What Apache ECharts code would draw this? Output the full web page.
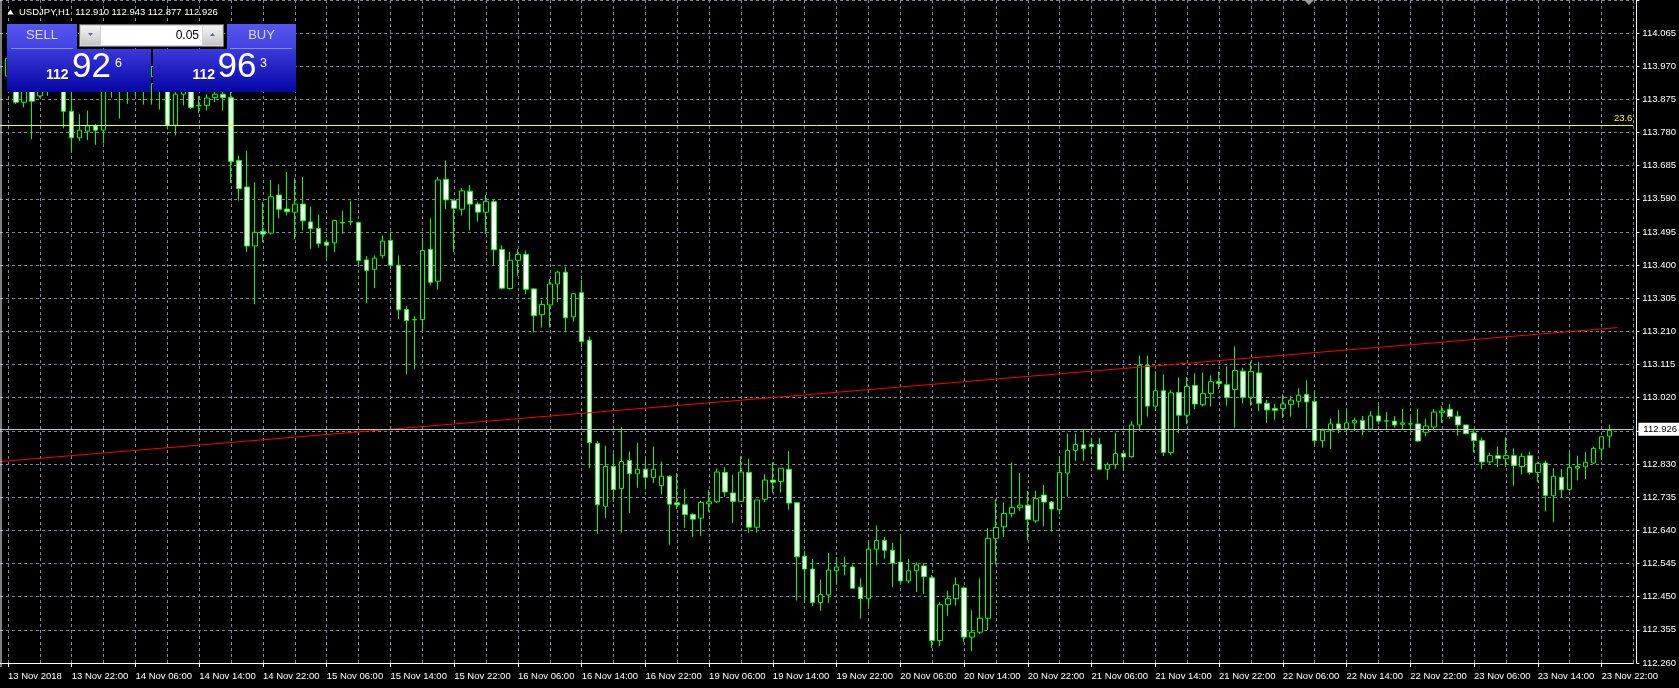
<!DOCTYPE html>
<html><head><meta charset="utf-8">
<script src="https://cdn.jsdelivr.net/npm/echarts@6/dist/echarts.min.js"></script>
<style>html,body{margin:0;padding:0;background:#000;}#c{width:1679px;height:688px;}</style>
</head><body><div id="c"></div>
<script>
const symbolName = 'USDJPY,H1';
const tickLabels = ['13 Nov 2018','13 Nov 22:00','14 Nov 06:00','14 Nov 14:00','14 Nov 22:00','15 Nov 06:00','15 Nov 14:00','15 Nov 22:00','16 Nov 06:00','16 Nov 14:00','16 Nov 22:00','19 Nov 06:00','19 Nov 14:00','19 Nov 22:00','20 Nov 06:00','20 Nov 14:00','20 Nov 22:00','21 Nov 06:00','21 Nov 14:00','21 Nov 22:00','22 Nov 06:00','22 Nov 14:00','22 Nov 22:00','23 Nov 06:00','23 Nov 14:00','23 Nov 22:00'];
const priceLow = 112.260, priceStep = 0.095, priceTop = 114.160;
const opens = [
113.942,113.930,113.867,113.900,113.885,113.910,113.935,113.950,113.841,113.765,
113.784,113.799,113.787,113.900,113.920,113.900,113.910,113.930,113.920,113.940,
113.920,113.801,113.890,113.910,113.857,113.858,113.880,113.890,113.880,113.700,
113.624,113.455,113.497,113.492,113.601,113.561,113.552,113.575,113.524,113.505,
113.466,113.464,113.522,113.524,113.522,113.415,113.388,113.427,113.471,113.400,
113.273,113.243,113.244,113.445,113.354,113.646,113.585,113.560,113.612,113.575,
113.552,113.582,113.445,113.333,113.414,113.431,113.332,113.258,113.286,113.346,
113.380,113.252,113.321,113.185,112.889,112.709,112.823,112.760,112.840,112.802,
112.815,112.791,112.768,112.795,112.719,112.713,112.685,112.675,112.716,112.722,
112.806,112.747,112.723,112.806,112.649,112.729,112.784,112.780,112.815,112.719,
112.566,112.529,112.433,112.455,112.524,112.538,112.535,112.477,112.444,112.586,
112.611,112.583,112.549,112.495,112.524,112.538,112.504,112.324,112.427,112.444,
112.475,112.334,112.348,112.388,112.617,112.650,112.688,112.705,112.712,112.667,
112.741,112.721,112.699,112.804,112.869,112.885,112.887,112.887,112.815,112.829,
112.860,112.851,112.942,113.113,112.996,113.040,112.863,113.035,112.970,113.055,
113.000,113.032,113.066,113.057,113.044,113.096,113.021,113.091,113.004,112.989,
112.989,113.001,113.010,113.029,113.009,112.897,112.927,112.945,112.931,112.948,
112.955,112.930,112.968,112.953,112.953,112.944,112.945,112.945,112.921,112.936,
112.977,112.987,112.967,112.942,112.919,112.897,112.836,112.854,112.845,112.854,
112.823,112.854,112.806,112.833,112.739,112.792,112.757,112.818,112.822,112.833,
112.873,112.910];
const highs = [
114.026,113.945,113.920,113.930,113.935,113.950,113.970,113.970,113.900,113.833,
113.843,113.805,113.930,113.950,113.950,113.940,113.950,113.960,113.970,113.960,
113.940,113.920,113.940,113.930,113.885,113.890,113.910,113.920,113.900,113.714,
113.728,113.638,113.581,113.644,113.632,113.667,113.650,113.653,113.568,113.545,
113.474,113.530,113.556,113.585,113.525,113.426,113.428,113.485,113.496,113.428,
113.282,113.254,113.478,113.534,113.653,113.700,113.588,113.621,113.630,113.582,
113.601,113.589,113.457,113.438,113.446,113.442,113.335,113.299,113.360,113.384,
113.395,113.320,113.358,113.195,112.896,112.883,112.861,112.936,112.866,112.891,
112.844,112.880,112.837,112.797,112.804,112.759,112.689,112.725,112.756,112.817,
112.821,112.799,112.852,112.845,112.727,112.801,112.835,112.818,112.867,112.719,
112.581,112.558,112.499,112.575,112.564,112.564,112.542,112.502,112.611,112.654,
112.621,112.604,112.621,112.558,112.548,112.546,112.512,112.434,112.467,112.505,
112.479,112.411,112.502,112.646,112.729,112.720,112.835,112.804,112.753,112.753,
112.770,112.724,112.852,112.917,112.917,112.931,112.905,112.905,112.835,112.920,
112.863,112.953,113.141,113.141,113.096,113.087,113.042,113.078,113.079,113.090,
113.092,113.084,113.095,113.110,113.167,113.106,113.123,113.123,113.014,113.002,
113.030,113.025,113.047,113.070,113.037,112.932,112.960,112.985,112.987,112.963,
112.968,112.982,112.998,112.979,112.967,112.988,112.965,112.988,112.960,112.988,
112.996,113.002,112.982,112.942,112.927,112.906,112.863,112.880,112.906,112.875,
112.861,112.866,112.837,112.840,112.818,112.816,112.868,112.854,112.864,112.880,
112.908,112.943];
const lows = [
113.912,113.862,113.852,113.761,113.880,113.885,113.910,113.792,113.725,113.756,
113.758,113.745,113.749,113.880,113.820,113.862,113.885,113.860,113.860,113.846,
113.789,113.772,113.858,113.848,113.836,113.843,113.867,113.843,113.636,113.585,
113.438,113.288,113.466,113.488,113.534,113.543,113.475,113.500,113.447,113.450,
113.419,113.438,113.490,113.515,113.400,113.291,113.334,113.419,113.389,113.245,
113.087,113.101,113.212,113.342,113.330,113.560,113.438,113.542,113.500,113.525,
113.490,113.401,113.330,113.330,113.370,113.316,113.207,113.221,113.221,113.294,
113.208,113.238,113.164,112.818,112.630,112.675,112.722,112.633,112.689,112.762,
112.757,112.776,112.743,112.599,112.701,112.647,112.621,112.624,112.693,112.718,
112.736,112.661,112.723,112.633,112.633,112.721,112.748,112.748,112.699,112.439,
112.434,112.423,112.409,112.432,112.484,112.511,112.472,112.387,112.421,112.539,
112.559,112.477,112.484,112.488,112.463,112.457,112.303,112.308,112.394,112.424,
112.320,112.294,112.343,112.354,112.542,112.621,112.677,112.696,112.611,112.661,
112.652,112.636,112.686,112.736,112.839,112.839,112.858,112.812,112.785,112.816,
112.811,112.848,112.925,112.966,112.982,112.853,112.856,112.919,112.944,112.987,
112.995,112.995,113.045,112.997,112.934,113.004,112.997,112.982,112.948,112.957,
112.962,112.966,112.992,112.932,112.880,112.877,112.873,112.919,112.925,112.925,
112.913,112.928,112.943,112.930,112.934,112.929,112.925,112.894,112.910,112.927,
112.948,112.960,112.911,112.915,112.863,112.816,112.831,112.821,112.821,112.768,
112.800,112.800,112.778,112.694,112.663,112.736,112.753,112.783,112.787,112.830,
112.842,112.877];
const closes = [
113.993,113.867,113.900,113.870,113.910,113.935,113.950,113.841,113.765,113.787,
113.799,113.787,113.900,113.920,113.900,113.910,113.930,113.920,113.940,113.920,
113.801,113.890,113.910,113.852,113.857,113.879,113.890,113.880,113.697,113.619,
113.455,113.494,113.489,113.596,113.560,113.553,113.575,113.527,113.505,113.462,
113.457,113.528,113.521,113.525,113.413,113.385,113.420,113.469,113.400,113.272,
113.241,113.244,113.442,113.351,113.644,113.587,113.563,113.613,113.575,113.552,
113.582,113.444,113.334,113.414,113.431,113.331,113.255,113.287,113.346,113.380,
113.249,113.318,113.181,112.891,112.713,112.823,112.757,112.837,112.802,112.815,
112.792,112.815,112.795,112.715,112.713,112.685,112.672,112.720,112.722,112.807,
112.750,112.723,112.807,112.649,112.727,112.784,112.778,112.818,112.718,112.564,
112.529,112.433,112.456,112.526,112.535,112.538,112.474,112.444,112.586,112.611,
112.583,112.546,112.495,112.524,112.541,112.507,112.324,112.427,112.444,112.484,
112.334,112.348,112.388,112.617,112.648,112.688,112.705,112.712,112.671,112.731,
112.721,112.701,112.806,112.869,112.886,112.874,112.880,112.815,112.829,112.860,
112.850,112.942,113.113,112.996,113.040,112.863,113.034,112.970,113.052,113.002,
113.032,113.066,113.061,113.021,113.098,113.021,113.095,113.004,112.985,112.984,
113.002,113.013,113.027,113.008,112.897,112.927,112.945,112.931,112.948,112.955,
112.930,112.968,112.953,112.954,112.942,112.948,112.945,112.896,112.939,112.979,
112.982,112.966,112.942,112.917,112.897,112.836,112.854,112.846,112.854,112.826,
112.852,112.806,112.831,112.740,112.795,112.756,112.820,112.823,112.835,112.875,
112.908,112.926];
const fibLevel = 113.797, fibText = '23.6';
const trendStart = {bar: -1, price: 112.837};
const trendEnd = {bar: 202, price: 113.221};
const bid = 112.926, ask = 112.963, lotSize = '0.05';

const FONT = '"Liberation Sans", Arial, sans-serif';
const N = opens.length, EXTRA = 3;
const cats = [''];
for (let i = 0; i < N; i++) cats.push('b' + i);
for (let i = 0; i < EXTRA; i++) cats.push('e' + i);
const candleData = [['-', '-', '-', '-']];
for (let i = 0; i < N; i++) candleData.push([opens[i] - priceLow, closes[i] - priceLow, lows[i] - priceLow, highs[i] - priceLow]);
const isLabelIdx = idx => { const b = idx - 1; return b >= 0 && b % 8 === 0 && b / 8 < tickLabels.length; };
const isGridIdx = idx => { const b = idx - 1; return b >= 0 && b % 4 === 0; };
const fmt = v => v.toFixed(3);
const header = symbolName + '  ' + [opens[N-1], highs[N-1], lows[N-1], closes[N-1]].map(fmt).join(' ');
function splitPrice(p) { const s = fmt(p); return [s.slice(0, 3), s.slice(4, 6), s.slice(6)]; }
const bidP = splitPrice(bid), askP = splitPrice(ask);

const chart = echarts.init(document.getElementById('c'), null, {renderer: 'canvas', width: 1679, height: 688});
const grad = (a, b) => new echarts.graphic.LinearGradient(0, 0, 0, 1, [{offset: 0, color: a}, {offset: 1, color: b}]);
const txt = (x, y, text, size, color, align, weight) => ({
  type: 'text', x: x, y: y, z: 101, silent: true,
  style: {text: text, fill: color, font: (weight || 'normal') + ' ' + size + 'px ' + FONT,
    align: align, verticalAlign: 'middle', textAlign: align, textVerticalAlign: 'middle'}
});
const option = {
  animation: false,
  backgroundColor: '#000000',
  grid: {left: -4, right: 43, top: -9.1, bottom: 25.1, containLabel: false},
  xAxis: {
    type: 'category', data: cats, boundaryGap: false, offset: 4.1,
    axisLine: {show: true, lineStyle: {color: '#ffffff', width: 1}},
    axisTick: {show: true, interval: isLabelIdx, length: 4, lineStyle: {color: '#ffffff'}},
    axisLabel: {show: true, interval: isLabelIdx, color: '#ffffff', fontSize: 9.5, fontFamily: FONT,
      align: 'left', margin: 4,
      formatter: (v, idx) => isLabelIdx(idx) ? tickLabels[(idx - 1) / 8] : ''},
    splitLine: {show: true, interval: isGridIdx, lineStyle: {color: '#778899', width: 1, type: [3, 3]}}
  },
  yAxis: {
    type: 'value', position: 'right', offset: 3, min: 0, max: +(priceTop - priceLow).toFixed(3), interval: priceStep,
    axisLine: {show: true, lineStyle: {color: '#ffffff', width: 1}},
    axisTick: {show: true, length: 3, lineStyle: {color: '#ffffff'}},
    axisLabel: {show: true, margin: 6, color: '#ffffff', fontSize: 9.5, fontFamily: FONT,
      formatter: v => (v + priceLow > 114.1 ? '' : fmt(v + priceLow))},
    splitLine: {show: true, lineStyle: {color: '#778899', width: 1, type: [3, 3]}}
  },
  series: [
    {
      type: 'candlestick', data: candleData, barWidth: 5, clip: false, silent: true,
      itemStyle: {color: '#000000', color0: '#ffffff', borderColor: '#00ff00', borderColor0: '#00ff00', borderWidth: 1},
      markLine: {
        silent: true, symbol: ['none', 'none'], animation: false,
        data: [
          {yAxis: fibLevel - priceLow, lineStyle: {color: '#ffff00', type: 'solid', width: 1},
            label: {show: true, position: 'insideEndTop', formatter: fibText, color: '#ffff00', fontSize: 9.5, fontFamily: FONT, distance: [1, 2]}},
          {yAxis: closes[N-1] - priceLow, lineStyle: {color: '#c0c0c0', type: 'solid', width: 1},
            label: {show: true, position: 'end', formatter: fmt(closes[N-1]), color: '#000000', backgroundColor: '#ffffff',
              fontSize: 9.5, fontFamily: FONT, padding: [2, 6, 1, 5], distance: 5}}
        ]
      }
    },
    {
      type: 'line', silent: true, z: 3, clip: false,
      data: [
        {value: [trendStart.bar + 1, trendStart.price - priceLow], symbol: 'none'},
        {value: [trendEnd.bar + 1, trendEnd.price - priceLow], symbol: 'rect', symbolSize: 6,
          itemStyle: {color: '#ffffff', borderColor: '#ff0000', borderWidth: 1}}
      ],
      lineStyle: {color: '#ff0000', width: 1}
    }
  ],
  graphic: [
    {type: 'line', z: 50, silent: true, shape: {x1: 1, y1: 0, x2: 1, y2: 667}, style: {stroke: '#ffffff', lineWidth: 1}},
    {type: 'polygon', z: 50, silent: true, shape: {points: [[1304, 0], [1314, 0], [1309, 5]]}, style: {fill: '#9a9a9a'}},
    {type: 'polygon', z: 100, silent: true, shape: {points: [[7.5, 14.5], [13.5, 14.5], [10.5, 9.5]]}, style: {fill: '#ffffff'}},
    txt(19, 12.5, header, 9.5, '#ffffff', 'left'),
    // SELL block
    {type: 'rect', z: 100, silent: true, shape: {x: 7, y: 24, width: 70, height: 25}, style: {fill: grad('#5656f0', '#4242e2')}},
    {type: 'rect', z: 100, silent: true, shape: {x: 7, y: 49, width: 144, height: 43}, style: {fill: grad('#3a3adc', '#0505a5')}},
    {type: 'line', z: 101, silent: true, shape: {x1: 11, y1: 48.5, x2: 73, y2: 48.5}, style: {stroke: '#8c8cf8', lineWidth: 1}},
    txt(42, 35.5, 'SELL', 13, '#dcdcff', 'center'),
    // BUY block
    {type: 'rect', z: 100, silent: true, shape: {x: 227, y: 24, width: 69, height: 25}, style: {fill: grad('#5656f0', '#4242e2')}},
    {type: 'rect', z: 100, silent: true, shape: {x: 153, y: 49, width: 143, height: 43}, style: {fill: grad('#3a3adc', '#0505a5')}},
    {type: 'line', z: 101, silent: true, shape: {x1: 230, y1: 48.5, x2: 292, y2: 48.5}, style: {stroke: '#8c8cf8', lineWidth: 1}},
    txt(261.5, 35.5, 'BUY', 13, '#dcdcff', 'center'),
    // lot spinner
    {type: 'rect', z: 100, silent: true, shape: {x: 79.5, y: 24.5, width: 144, height: 22}, style: {fill: '#d4d4d4', stroke: '#6e6e6e', lineWidth: 1}},
    {type: 'rect', z: 101, silent: true, shape: {x: 101, y: 26, width: 101, height: 19}, style: {fill: '#ffffff'}},
    {type: 'rect', z: 101, silent: true, shape: {x: 81, y: 26, width: 19, height: 19}, style: {fill: grad('#f4f4f4', '#c6c6c6')}},
    {type: 'rect', z: 101, silent: true, shape: {x: 203, y: 26, width: 19, height: 19}, style: {fill: grad('#f4f4f4', '#c6c6c6')}},
    {type: 'polygon', z: 102, silent: true, shape: {points: [[88, 33], [93, 33], [90.5, 36]]}, style: {fill: '#5a6a9a'}},
    {type: 'polygon', z: 102, silent: true, shape: {points: [[210, 36], [215, 36], [212.5, 33]]}, style: {fill: '#5a6a9a'}},
    txt(199, 35.5, lotSize, 12, '#000000', 'right'),
    // prices
    txt(68.5, 74.7, bidP[0], 14, '#ffffff', 'right', 'bold'),
    txt(72, 67.5, bidP[1], 35, '#ffffff', 'left'),
    txt(115, 63.8, bidP[2], 12.5, '#ffffff', 'left'),
    txt(215, 74.7, askP[0], 14, '#ffffff', 'right', 'bold'),
    txt(217.5, 67.5, askP[1], 35, '#ffffff', 'left'),
    txt(260, 63.8, askP[2], 12.5, '#ffffff', 'left')
  ]
};
chart.setOption(option);
</script>
</body></html>
